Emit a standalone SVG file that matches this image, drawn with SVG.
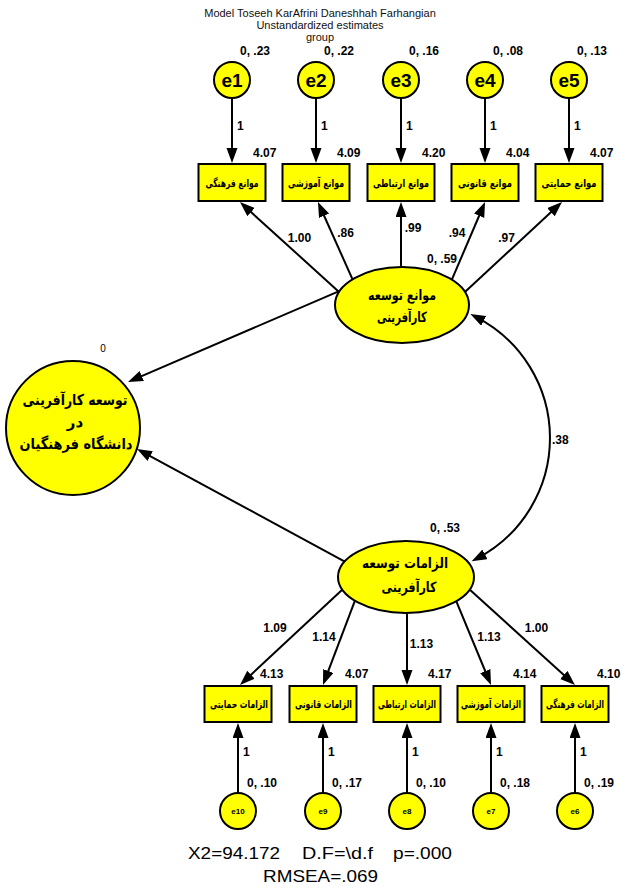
<svg xmlns="http://www.w3.org/2000/svg" width="621" height="888" viewBox="0 0 621 888">
<style>
.box{fill:#ffff00;stroke:#000;stroke-width:2}
.lat{fill:#ffff00;stroke:#000;stroke-width:2}
.c{stroke:#000;stroke-width:2;fill:none;marker-end:url(#ah)}
.num{font-family:"Liberation Sans",Arial,sans-serif;font-weight:bold;font-size:12px;fill:#000}
.ttl{font-family:"Liberation Sans",Arial,sans-serif;font-size:11px;fill:#111;text-anchor:middle}
.ft{font-family:"Liberation Sans",Arial,sans-serif;font-size:17px;fill:#000}
.fa{font-family:"DejaVu Sans",sans-serif;font-weight:bold;fill:#000;text-anchor:middle}
.bx{font-size:11px}
.eb{font-family:"Liberation Sans",Arial,sans-serif;font-weight:bold;font-size:19px;fill:#000;text-anchor:middle}
.es{font-family:"Liberation Sans",Arial,sans-serif;font-weight:bold;font-size:8px;fill:#000;text-anchor:middle}
.m{text-anchor:middle}
.e{text-anchor:end}
</style>
<defs>
<marker id="ah" markerUnits="userSpaceOnUse" markerWidth="16" markerHeight="12" refX="9" refY="5.5" orient="auto-start-reverse">
<path d="M0,0 L15,5.5 L0,11 z" fill="#000"/>
</marker>
</defs>
<rect width="621" height="888" fill="#fff"/>

<g id="title">
<text class="ttl" x="320" y="17">Model Toseeh KarAfrini Daneshhah Farhangian</text>
<text class="ttl" x="320" y="29">Unstandardized estimates</text>
<text class="ttl" x="320" y="41">group</text>
</g>

<g id="connectors">
<line class="c" x1="232" y1="98" x2="232" y2="157"/>
<line class="c" x1="316" y1="98" x2="316" y2="157"/>
<line class="c" x1="401" y1="98" x2="401" y2="157"/>
<line class="c" x1="485" y1="98" x2="485" y2="157"/>
<line class="c" x1="569" y1="98" x2="569" y2="157"/>
<line class="c" x1="340.7" y1="293.4" x2="244.4" y2="206.1"/>
<line class="c" x1="354" y1="282.6" x2="320.4" y2="207.5"/>
<line class="c" x1="401" y1="272" x2="401" y2="208"/>
<line class="c" x1="451" y1="281.6" x2="482.7" y2="207.5"/>
<line class="c" x1="463.3" y1="293.4" x2="557.6" y2="206.1"/>
<line class="c" x1="345" y1="288.6" x2="133.5" y2="379.6"/>
<line class="c" x1="348" y1="563.3" x2="142.3" y2="451.9"/>
<path class="c" style="marker-start:url(#ah)" d="M475.7,316.8 A136,136 0 0 1 477,558.5"/>
<line class="c" x1="345.7" y1="586.6" x2="244.4" y2="680.9"/>
<line class="c" x1="355.8" y1="598.3" x2="325.1" y2="679.4"/>
<line class="c" x1="407" y1="609" x2="407" y2="679"/>
<line class="c" x1="455.1" y1="598.4" x2="488.7" y2="679.5"/>
<line class="c" x1="466.3" y1="586.6" x2="570.5" y2="681"/>
<line class="c" x1="238" y1="793" x2="238" y2="729"/>
<line class="c" x1="323" y1="793" x2="323" y2="729"/>
<line class="c" x1="407" y1="793" x2="407" y2="729"/>
<line class="c" x1="491" y1="793" x2="491" y2="729"/>
<line class="c" x1="575" y1="793" x2="575" y2="729"/>
</g>

<g id="connector-labels" class="num">
<text x="237" y="130">1</text>
<text x="321" y="130">1</text>
<text x="406" y="130">1</text>
<text x="490" y="130">1</text>
<text x="574" y="130">1</text>
<text class="m" x="299.5" y="242">1.00</text>
<text class="m" x="345.5" y="237">.86</text>
<text class="m" x="413" y="232">.99</text>
<text class="m" x="457" y="237">.94</text>
<text class="m" x="506.5" y="242">.97</text>
<text x="552" y="444">.38</text>
<text class="m" x="275" y="632">1.09</text>
<text class="m" x="324" y="641">1.14</text>
<text class="m" x="421.5" y="648">1.13</text>
<text class="m" x="489" y="641">1.13</text>
<text class="m" x="536.5" y="632">1.00</text>
<text x="243" y="756">1</text>
<text x="328" y="756">1</text>
<text x="412" y="756">1</text>
<text x="496" y="756">1</text>
<text x="580" y="756">1</text>
</g>

<g id="e1"><circle class="lat" cx="232" cy="80" r="18"/><text class="eb" x="232" y="87">e1</text><text class="num e" x="270" y="55">0, .23</text></g>
<g id="e2"><circle class="lat" cx="316" cy="80" r="18"/><text class="eb" x="316" y="87">e2</text><text class="num e" x="354" y="55">0, .22</text></g>
<g id="e3"><circle class="lat" cx="401" cy="80" r="18"/><text class="eb" x="401" y="87">e3</text><text class="num e" x="439" y="55">0, .16</text></g>
<g id="e4"><circle class="lat" cx="485" cy="80" r="18"/><text class="eb" x="485" y="87">e4</text><text class="num e" x="523" y="55">0, .08</text></g>
<g id="e5"><circle class="lat" cx="569" cy="80" r="18"/><text class="eb" x="569" y="87">e5</text><text class="num e" x="607" y="55">0, .13</text></g>

<g id="m1"><rect class="box" x="198.5" y="164" width="67" height="37"/><text class="fa bx" x="232" y="186.5" textLength="53" lengthAdjust="spacingAndGlyphs">موانع فرهنگی</text><text class="num" x="253" y="157">4.07</text></g>
<g id="m2"><rect class="box" x="282.5" y="164" width="67" height="37"/><text class="fa bx" x="316" y="186.5" textLength="56" lengthAdjust="spacingAndGlyphs">موانع آموزشی</text><text class="num" x="337" y="157">4.09</text></g>
<g id="m3"><rect class="box" x="367.5" y="164" width="67" height="37"/><text class="fa bx" x="401" y="186.5" textLength="56" lengthAdjust="spacingAndGlyphs">موانع ارتباطی</text><text class="num" x="422" y="157">4.20</text></g>
<g id="m4"><rect class="box" x="451.5" y="164" width="67" height="37"/><text class="fa bx" x="485" y="186.5" textLength="54" lengthAdjust="spacingAndGlyphs">موانع قانونی</text><text class="num" x="506" y="157">4.04</text></g>
<g id="m5"><rect class="box" x="535.5" y="164" width="67" height="37"/><text class="fa bx" x="569" y="186.5" textLength="55" lengthAdjust="spacingAndGlyphs">موانع حمایتی</text><text class="num" x="590" y="157">4.07</text></g>

<g id="mavane"><ellipse class="lat" cx="402" cy="305" rx="67" ry="38"/><text class="fa" x="402" y="300" font-size="14" textLength="68" lengthAdjust="spacingAndGlyphs">موانع توسعه</text><text class="fa" x="402" y="322" font-size="14" textLength="50" lengthAdjust="spacingAndGlyphs">کارآفرینی</text><text class="num e" x="457" y="263">0, .59</text></g>

<g id="tosee"><circle class="lat" cx="73" cy="428" r="67"/><text class="fa" x="75" y="405" font-size="15" textLength="105" lengthAdjust="spacingAndGlyphs">توسعه کارآفرینی</text><text class="fa" x="75" y="427" font-size="15">در</text><text class="fa" x="76" y="449" font-size="15" textLength="113" lengthAdjust="spacingAndGlyphs">دانشگاه فرهنگیان</text><text x="103" y="352" font-family="Liberation Sans, Arial, sans-serif" font-size="10" text-anchor="middle">0</text></g>

<g id="elzamat"><ellipse class="lat" cx="406" cy="577" rx="68" ry="36"/><text class="fa" x="405" y="568" font-size="14" textLength="86" lengthAdjust="spacingAndGlyphs">الزامات توسعه</text><text class="fa" x="409" y="592" font-size="14" textLength="55" lengthAdjust="spacingAndGlyphs">کارآفرینی</text><text class="num e" x="460" y="532">0, .53</text></g>

<g id="z1"><rect class="box" x="204.5" y="686" width="67" height="36"/><text class="fa bx" x="239" y="708" textLength="58" lengthAdjust="spacingAndGlyphs">الزامات حمایتی</text><text class="num" x="260" y="678">4.13</text></g>
<g id="z2"><rect class="box" x="289.5" y="686" width="67" height="36"/><text class="fa bx" x="323.5" y="708" textLength="57" lengthAdjust="spacingAndGlyphs">الزامات قانونی</text><text class="num" x="345" y="678">4.07</text></g>
<g id="z3"><rect class="box" x="373.5" y="686" width="67" height="36"/><text class="fa bx" x="407" y="708" textLength="58" lengthAdjust="spacingAndGlyphs">الزامات ارتباطی</text><text class="num" x="428" y="678">4.17</text></g>
<g id="z4"><rect class="box" x="457.5" y="686" width="67" height="36"/><text class="fa bx" x="491" y="708" textLength="60" lengthAdjust="spacingAndGlyphs">الزامات آموزشی</text><text class="num" x="513" y="678">4.14</text></g>
<g id="z5"><rect class="box" x="541.5" y="686" width="67" height="36"/><text class="fa bx" x="575" y="708" textLength="58" lengthAdjust="spacingAndGlyphs">الزامات فرهنگی</text><text class="num" x="597" y="678">4.10</text></g>

<g id="e10"><circle class="lat" cx="238" cy="811" r="18"/><text class="es" x="238" y="814">e10</text><text class="num e" x="277" y="787">0, .10</text></g>
<g id="e9"><circle class="lat" cx="323" cy="811" r="18"/><text class="es" x="323" y="814">e9</text><text class="num e" x="362" y="787">0, .17</text></g>
<g id="e8"><circle class="lat" cx="407" cy="811" r="18"/><text class="es" x="407" y="814">e8</text><text class="num e" x="446" y="787">0, .10</text></g>
<g id="e7"><circle class="lat" cx="491" cy="811" r="18"/><text class="es" x="491" y="814">e7</text><text class="num e" x="530" y="787">0, .18</text></g>
<g id="e6"><circle class="lat" cx="575" cy="811" r="18"/><text class="es" x="575" y="814">e6</text><text class="num e" x="614" y="787">0, .19</text></g>

<g id="footer">
<text class="ft" x="188" y="859" textLength="92" lengthAdjust="spacingAndGlyphs">X2=94.172</text>
<text class="ft" x="302" y="859" textLength="71" lengthAdjust="spacingAndGlyphs">D.F=\d.f</text>
<text class="ft" x="393" y="859" textLength="59" lengthAdjust="spacingAndGlyphs">p=.000</text>
<text class="ft" x="263" y="882" textLength="115" lengthAdjust="spacingAndGlyphs">RMSEA=.069</text>
</g>
</svg>
